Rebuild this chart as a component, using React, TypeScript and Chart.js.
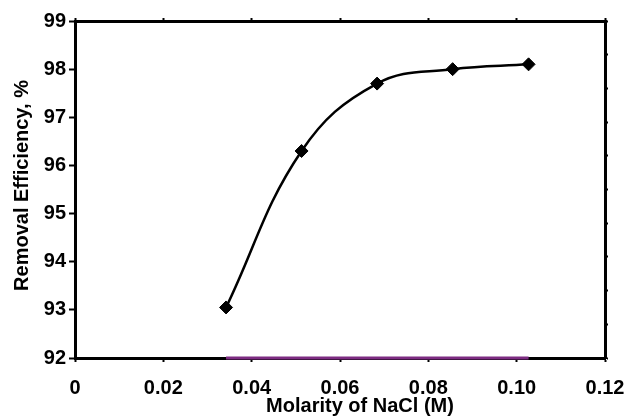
import { useEffect, useRef } from 'react';
import { Chart, registerables } from 'chart.js';

Chart.register(...registerables);

// ---- data ----
const molarity = [0.0342, 0.0513, 0.0684, 0.0855, 0.1027];
const removalEfficiency = [93.05, 96.3, 97.7, 98.0, 98.1];
const baselineValues = [92, 92];
const xTickLabels = ['0', '0.02', '0.04', '0.06', '0.08', '0.10', '0.12'];
const yTickLabels = ['92', '93', '94', '95', '96', '97', '98', '99'];
const xTitle = 'Molarity of NaCl (M)';
const yTitle = 'Removal Efficiency, %';

const FONT = 'Arial, "Liberation Sans", sans-serif';

const titlesPlugin = {
  id: 'customTitles',
  afterDraw(chart: any) {
    const { ctx, chartArea } = chart;
    ctx.save();
    ctx.fillStyle = '#000';
    ctx.font = `bold 20px ${FONT}`;
    ctx.textAlign = 'center';
    ctx.textBaseline = 'middle';
    ctx.fillText(xTitle, (chartArea.left + chartArea.right) / 2 + 20, 406);
    ctx.translate(22, (chartArea.top + chartArea.bottom) / 2 - 4);
    ctx.rotate(-Math.PI / 2);
    ctx.fillText(yTitle, 0, 0);
    ctx.restore();
  },
};

const noPad = (s: any) => {
  s.paddingLeft = 0;
  s.paddingRight = 0;
  s.paddingTop = 0;
  s.paddingBottom = 0;
};

export default function App() {
  const ref = useRef<HTMLCanvasElement | null>(null);

  useEffect(() => {
    if (!ref.current) return;
    const tickFont = { family: FONT, size: 20, weight: 'bold' as const };
    const gridBase = {
      drawOnChartArea: false,
      drawTicks: true,
      tickColor: '#000',
      tickWidth: 2,
    };
    const border = { display: true, color: '#000', width: 3 };
    const chart = new Chart(ref.current, {
      type: 'line',
      data: {
        datasets: [
          {
            label: 'Removal efficiency',
            data: molarity.map((x, i) => ({ x, y: removalEfficiency[i] })),
            borderColor: '#000',
            backgroundColor: '#000',
            borderWidth: 2.5,
            tension: 0.4,
            pointStyle: 'rectRot',
            pointRadius: 6.5,
            pointBorderWidth: 1,
            pointBackgroundColor: '#000',
            pointBorderColor: '#000',
            fill: false,
          },
          {
            label: 'baseline',
            data: [
              { x: molarity[0], y: baselineValues[0] },
              { x: molarity[molarity.length - 1], y: baselineValues[1] },
            ],
            borderColor: '#7D2C82',
            borderWidth: 3,
            pointRadius: 0,
            fill: false,
            clip: false,
          },
        ],
      },
      options: {
        responsive: false,
        animation: false,
        layout: { padding: 0, autoPadding: false },
        plugins: {
          legend: { display: false },
          tooltip: { enabled: false },
        },
        scales: {
          x: {
            type: 'linear',
            position: 'bottom',
            min: 0,
            max: 0.12,
            ticks: {
              stepSize: 0.02,
              color: '#000',
              font: tickFont,
              padding: 14,
              maxRotation: 0,
              autoSkip: false,
              callback: (_v: any, i: number) => xTickLabels[i],
            },
            grid: { ...gridBase, tickLength: 4 },
            border,
            afterFit: (s: any) => {
              s.height = 62;
              noPad(s);
            },
          },
          x2: {
            type: 'linear',
            position: 'top',
            min: 0,
            max: 0.12,
            ticks: { stepSize: 0.02, display: false },
            grid: { ...gridBase, tickLength: 3 },
            border,
            afterFit: (s: any) => {
              s.height = 21;
              noPad(s);
            },
          },
          y: {
            type: 'linear',
            position: 'left',
            min: 92,
            max: 99,
            ticks: {
              stepSize: 1,
              color: '#000',
              font: tickFont,
              padding: 3,
              callback: (_v: any, i: number) => yTickLabels[i],
            },
            grid: { ...gridBase, tickLength: 6 },
            border,
            afterFit: (s: any) => {
              s.width = 75;
              noPad(s);
            },
          },
          y2: {
            type: 'linear',
            position: 'right',
            min: 0,
            max: 10,
            ticks: { stepSize: 1, display: false },
            grid: { ...gridBase, tickLength: 3 },
            border,
            afterFit: (s: any) => {
              s.width = 25;
              noPad(s);
            },
          },
        },
      },
      plugins: [titlesPlugin],
    });
    return () => chart.destroy();
  }, []);

  return (
    <div style={{ position: 'fixed', left: 0, top: 0, width: 630, height: 420, background: '#fff' }}>
      <canvas ref={ref} width={630} height={420} />
    </div>
  );
}
